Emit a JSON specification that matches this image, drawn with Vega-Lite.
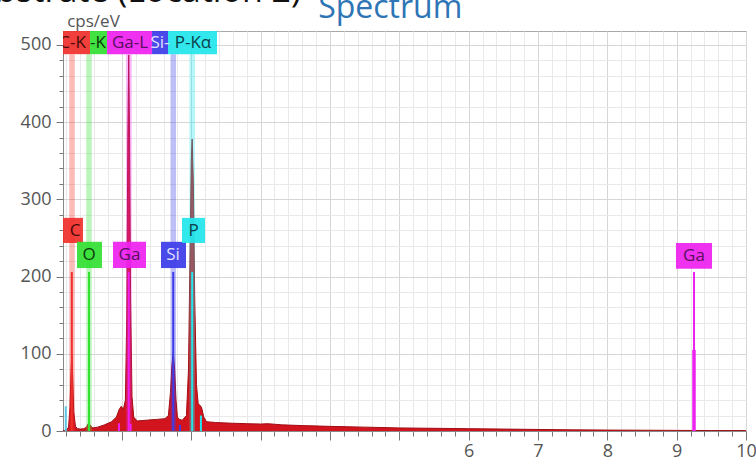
{
  "$schema": "https://vega.github.io/schema/vega-lite/v6.json",
  "width": 683,
  "height": 400,
  "autosize": {"type": "none"},
  "padding": {"left": 63, "top": 31, "right": 10, "bottom": 30},
  "background": "white",
  "config": {
    "view": {"stroke": "#a8a8a8", "strokeWidth": 1},
    "font": "Open Sans",
    "axis": {"labelFont": "Open Sans", "titleFont": "Open Sans"}
  },
  "datasets": {
    "spec": [
      {"keV": 0.15, "cps": 0.5}, {"keV": 0.2, "cps": 1}, {"keV": 0.23, "cps": 5}, {"keV": 0.25, "cps": 30},
      {"keV": 0.265, "cps": 75}, {"keV": 0.277, "cps": 100}, {"keV": 0.29, "cps": 70}, {"keV": 0.305, "cps": 25},
      {"keV": 0.33, "cps": 6}, {"keV": 0.36, "cps": 3}, {"keV": 0.4, "cps": 2.5}, {"keV": 0.45, "cps": 3},
      {"keV": 0.49, "cps": 5}, {"keV": 0.51, "cps": 9}, {"keV": 0.525, "cps": 10}, {"keV": 0.545, "cps": 7},
      {"keV": 0.58, "cps": 4}, {"keV": 0.65, "cps": 5}, {"keV": 0.75, "cps": 8}, {"keV": 0.85, "cps": 12},
      {"keV": 0.92, "cps": 18}, {"keV": 0.96, "cps": 28}, {"keV": 0.99, "cps": 32}, {"keV": 1.02, "cps": 28},
      {"keV": 1.05, "cps": 40}, {"keV": 1.07, "cps": 150}, {"keV": 1.085, "cps": 380}, {"keV": 1.098, "cps": 487},
      {"keV": 1.11, "cps": 380}, {"keV": 1.125, "cps": 170}, {"keV": 1.145, "cps": 45}, {"keV": 1.17, "cps": 18},
      {"keV": 1.22, "cps": 13}, {"keV": 1.35, "cps": 14}, {"keV": 1.5, "cps": 15}, {"keV": 1.62, "cps": 16},
      {"keV": 1.67, "cps": 20}, {"keV": 1.7, "cps": 50}, {"keV": 1.72, "cps": 85}, {"keV": 1.74, "cps": 102},
      {"keV": 1.76, "cps": 80}, {"keV": 1.78, "cps": 40}, {"keV": 1.8, "cps": 18}, {"keV": 1.83, "cps": 15},
      {"keV": 1.87, "cps": 14}, {"keV": 1.93, "cps": 20}, {"keV": 1.96, "cps": 80}, {"keV": 1.985, "cps": 250},
      {"keV": 2.0, "cps": 350}, {"keV": 2.013, "cps": 378}, {"keV": 2.03, "cps": 320}, {"keV": 2.05, "cps": 170},
      {"keV": 2.075, "cps": 60}, {"keV": 2.1, "cps": 35}, {"keV": 2.13, "cps": 33}, {"keV": 2.15, "cps": 30},
      {"keV": 2.18, "cps": 18}, {"keV": 2.22, "cps": 12}, {"keV": 2.35, "cps": 11}, {"keV": 2.6, "cps": 10},
      {"keV": 2.8, "cps": 9.5}, {"keV": 3.0, "cps": 9}, {"keV": 3.1, "cps": 9.5}, {"keV": 3.3, "cps": 8},
      {"keV": 3.6, "cps": 7}, {"keV": 4.0, "cps": 6}, {"keV": 4.5, "cps": 5}, {"keV": 5.0, "cps": 4},
      {"keV": 5.5, "cps": 3.5}, {"keV": 6.0, "cps": 3}, {"keV": 6.5, "cps": 2.5}, {"keV": 7.0, "cps": 2},
      {"keV": 7.5, "cps": 1.5}, {"keV": 8.0, "cps": 1.2}, {"keV": 8.5, "cps": 1}, {"keV": 9.0, "cps": 0.8},
      {"keV": 9.5, "cps": 0.6}, {"keV": 10.0, "cps": 0.5}
    ],
    "bands": [
      {"el": "C", "lo": 0.24, "hi": 0.32},
      {"el": "O", "lo": 0.485, "hi": 0.565},
      {"el": "Ga", "lo": 1.06, "hi": 1.14},
      {"el": "Si", "lo": 1.70, "hi": 1.78},
      {"el": "P", "lo": 1.973, "hi": 2.053}
    ],
    "markers": [
      {"el": "C", "e": 0.277, "h": 206},
      {"el": "O", "e": 0.525, "h": 206},
      {"el": "Ga", "e": 1.098, "h": 206},
      {"el": "Si", "e": 1.74, "h": 206},
      {"el": "P", "e": 2.013, "h": 206},
      {"el": "Ga", "e": 9.25, "h": 206}
    ],
    "minor": [
      {"el": "Ga", "e": 0.957, "h": 10},
      {"el": "Ga", "e": 1.125, "h": 9},
      {"el": "Si", "e": 1.836, "h": 8},
      {"el": "P", "e": 2.139, "h": 20}
    ],
    "boxes": [
      {"el": "C", "lo": 0.15, "hi": 0.539, "yb": 488, "yt": 518},
      {"el": "O", "lo": 0.539, "hi": 0.785, "yb": 488, "yt": 518},
      {"el": "Ga", "lo": 0.785, "hi": 1.434, "yb": 488, "yt": 518},
      {"el": "Si", "lo": 1.434, "hi": 1.664, "yb": 488, "yt": 518},
      {"el": "P", "lo": 1.664, "hi": 2.371, "yb": 488, "yt": 518},
      {"el": "C", "lo": 0.15, "hi": 0.438, "yb": 243.5, "yt": 276},
      {"el": "O", "lo": 0.352, "hi": 0.712, "yb": 211, "yt": 245},
      {"el": "Ga", "lo": 0.871, "hi": 1.347, "yb": 211, "yt": 245},
      {"el": "Si", "lo": 1.563, "hi": 1.924, "yb": 211, "yt": 245},
      {"el": "P", "lo": 1.866, "hi": 2.198, "yb": 243.5, "yt": 276},
      {"el": "Ga", "lo": 8.99, "hi": 9.51, "yb": 210, "yt": 243.5}
    ],
    "labels": [
      {"el": "C", "t": "C-K", "xc": 0.287, "yc": 503},
      {"el": "O", "t": "-K", "xc": 0.655, "yc": 503},
      {"el": "Ga", "t": "Ga-L", "xc": 1.116, "yc": 503},
      {"el": "Si", "t": "Si-", "xc": 1.549, "yc": 503},
      {"el": "P", "t": "P-Kα", "xc": 2.025, "yc": 503},
      {"el": "C", "t": "C", "xc": 0.323, "yc": 259.5},
      {"el": "O", "t": "O", "xc": 0.525, "yc": 228},
      {"el": "Ga", "t": "Ga", "xc": 1.109, "yc": 228},
      {"el": "Si", "t": "Si", "xc": 1.736, "yc": 228},
      {"el": "P", "t": "P", "xc": 2.032, "yc": 259.5},
      {"el": "Ga", "t": "Ga", "xc": 9.25, "yc": 227}
    ],
    "one": [{"k": 1}]
  },
  "layer": [
    {
      "data": {"name": "spec"},
      "mark": {"type": "area", "color": "#d2141e", "opacity": 1, "fillOpacity": 1, "line": {"color": "#a10d15", "strokeWidth": 1}, "clip": true},
      "encoding": {
        "x": {
          "field": "keV", "type": "quantitative", "title": null,
          "scale": {"domain": [0.15, 10], "nice": false, "zero": false},
          "axis": {
            "tickCount": 200,
            "values": [0.2,0.4,0.6,0.8,1,1.2,1.4,1.6,1.8,2,2.2,2.4,2.6,2.8,3,3.2,3.4,3.6,3.8,4,4.2,4.4,4.6,4.8,5,5.2,5.4,5.6,5.8,6,6.2,6.4,6.6,6.8,7,7.2,7.4,7.6,7.8,8,8.2,8.4,8.6,8.8,9,9.2,9.4,9.6,9.8,10],
            "labelExpr": "datum.value >= 5.9 && abs(datum.value - round(datum.value)) < 0.001 ? format(datum.value, 'd') : ''",
            "labelFontSize": 18, "labelColor": "#555", "labelPadding": 2,
            "labelOverlap": false, "labelFlush": false, "labelBound": false,
            "tickSize": {"condition": {"test": "abs(datum.value - round(datum.value)) < 0.001", "value": 9}, "value": 5},
            "tickColor": "#777", "domainColor": "#888",
            "grid": true,
            "gridColor": {"condition": {"test": "abs(datum.value - round(datum.value)) < 0.001", "value": "#d6d6d6"}, "value": "#e9e9e9"}
          }
        },
        "y": {
          "field": "cps", "type": "quantitative", "title": "cps/eV",
          "scale": {"domain": [0, 518], "nice": false},
          "axis": {
            "tickCount": 200,
            "titleAngle": 0, "titleX": 30, "titleY": -5,
            "titleAlign": "center", "titleBaseline": "alphabetic",
            "titleFontSize": 17, "titleFontWeight": "normal", "titleColor": "#555",
            "values": [0,20,40,60,80,100,120,140,160,180,200,220,240,260,280,300,320,340,360,380,400,420,440,460,480,500],
            "labelExpr": "datum.value % 100 === 0 ? datum.value : ''",
            "labelFontSize": 18, "labelColor": "#555", "labelPadding": 5,
            "labelOverlap": false,
            "tickSize": {"condition": {"test": "datum.value % 100 === 0", "value": 7}, "value": 4},
            "tickColor": "#777", "domainColor": "#888",
            "grid": true,
            "gridColor": {"condition": {"test": "datum.value % 100 === 0", "value": "#d6d6d6"}, "value": "#e9e9e9"}
          }
        }
      }
    },
    {
      "data": {"name": "bands"},
      "mark": {"type": "rect", "opacity": 0.33, "clip": true},
      "encoding": {
        "x": {"field": "lo", "type": "quantitative", "title": null},
        "x2": {"field": "hi"},
        "y": {"datum": 0, "title": "cps/eV"},
        "y2": {"datum": 488},
        "color": {"field": "el", "type": "nominal", "legend": null,
          "scale": {"domain": ["C","O","Ga","Si","P"], "range": ["#f0302c","#33e033","#ee22ee","#3c3ce8","#22e6ec"]}}
      }
    },
    {
      "data": {"name": "minor"},
      "mark": {"type": "rule", "strokeWidth": 2, "clip": true},
      "encoding": {
        "x": {"field": "e", "type": "quantitative", "title": null},
        "y": {"field": "h", "type": "quantitative", "title": "cps/eV"},
        "y2": {"datum": 0},
        "color": {"field": "el", "type": "nominal", "legend": null}
      }
    },
    {
      "data": {"name": "markers"},
      "mark": {"type": "rule", "strokeWidth": 2, "clip": true},
      "encoding": {
        "x": {"field": "e", "type": "quantitative", "title": null},
        "y": {"field": "h", "type": "quantitative", "title": "cps/eV"},
        "y2": {"datum": 0},
        "color": {"field": "el", "type": "nominal", "legend": null}
      }
    },
    {
      "data": {"name": "one"},
      "mark": {"type": "rule", "strokeWidth": 3.5, "color": "#ee22ee", "clip": true},
      "encoding": {
        "x": {"datum": 9.25, "title": null},
        "y": {"datum": 105, "title": "cps/eV"},
        "y2": {"datum": 0}
      }
    },
    {
      "data": {"name": "one"},
      "mark": {"type": "rule", "strokeWidth": 2, "color": "#59c6e6", "clip": true},
      "encoding": {
        "x": {"datum": 0.19, "title": null},
        "y": {"datum": 32, "title": "cps/eV"},
        "y2": {"datum": 0}
      }
    },
    {
      "data": {"name": "boxes"},
      "mark": {"type": "rect", "opacity": 0.93, "clip": true},
      "encoding": {
        "x": {"field": "lo", "type": "quantitative", "title": null},
        "x2": {"field": "hi"},
        "y": {"field": "yb", "type": "quantitative", "title": "cps/eV"},
        "y2": {"field": "yt"},
        "color": {"field": "el", "type": "nominal", "legend": null}
      }
    },
    {
      "data": {"name": "labels"},
      "mark": {"type": "text", "fontSize": 17, "font": "Open Sans", "baseline": "middle", "align": "center", "clip": true},
      "encoding": {
        "x": {"field": "xc", "type": "quantitative", "title": null},
        "y": {"field": "yc", "type": "quantitative", "title": "cps/eV"},
        "text": {"field": "t"},
        "fill": {"field": "el", "type": "nominal", "legend": null,
          "scale": {"domain": ["C","O","Ga","Si","P"], "range": ["#4a0a0a","#0a3a0a","#5a1060","#e0e0ff","#0a4048"]}}
      }
    },
    {
      "data": {"name": "one"},
      "mark": {"type": "text", "fontSize": 34, "font": "Open Sans", "align": "right", "baseline": "alphabetic", "color": "#111", "clip": false},
      "encoding": {
        "x": {"datum": 3.583, "title": null},
        "y": {"datum": 555, "title": "cps/eV"},
        "text": {"value": "Substrate (Location 2)"}
      }
    },
    {
      "data": {"name": "one"},
      "mark": {"type": "text", "fontSize": 32, "font": "Open Sans", "align": "left", "baseline": "alphabetic", "color": "#2e75b6", "clip": false},
      "encoding": {
        "x": {"datum": 3.83, "title": null},
        "y": {"datum": 535, "title": "cps/eV"},
        "text": {"value": "Spectrum"}
      }
    }
  ]
}
